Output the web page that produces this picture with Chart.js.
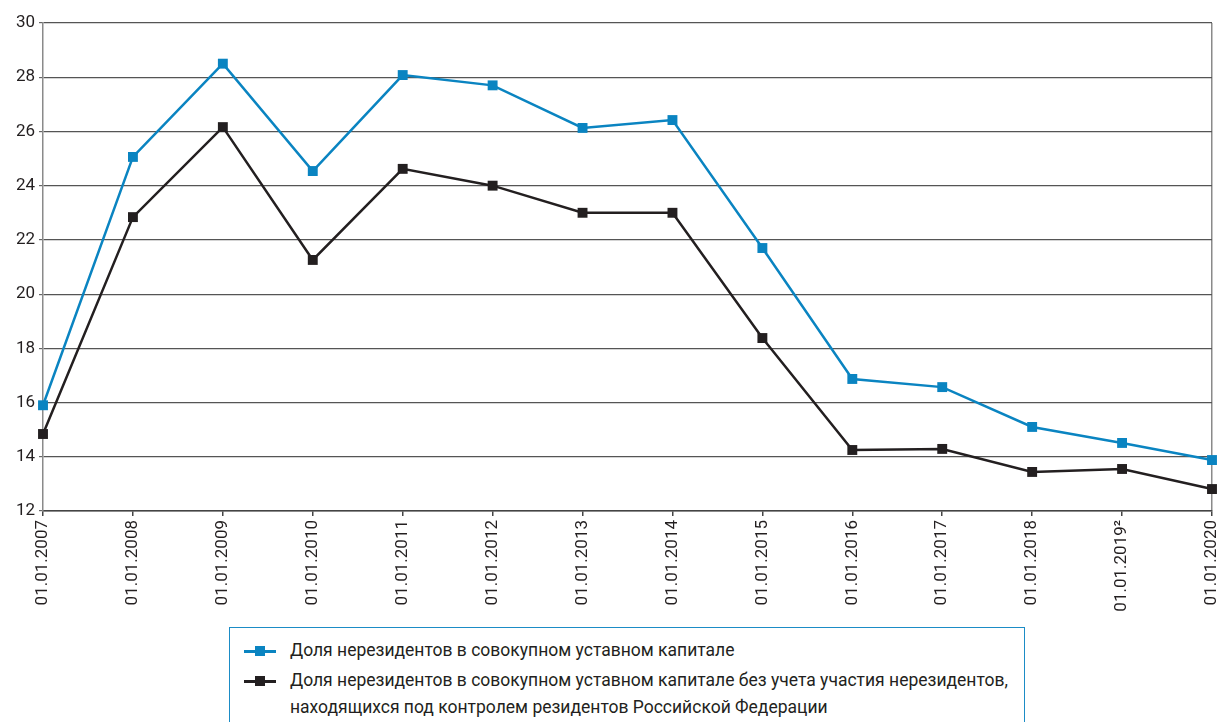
<!DOCTYPE html>
<html lang="ru">
<head>
<meta charset="utf-8">
<script src="https://cdn.jsdelivr.net/npm/chart.js@4.4.0/dist/chart.umd.min.js"></script>
<style>
  html, body { margin: 0; padding: 0; background: #fff; }
  body { width: 1219px; height: 722px; position: relative; overflow: hidden;
         font-family: 'Roboto', 'Liberation Sans', sans-serif; }
  #wrap { position: absolute; left: 0; top: 0; width: 1219px; height: 622px; }
  #legend { position: absolute; left: 229px; top: 627px; width: 796px; height: 120px;
            border: 1.5px solid #1b8cc6; box-sizing: border-box; color: #231f20; font-size: 17.5px; }
  .item { position: absolute; left: 14px; display: flex; align-items: flex-start; }
  .mark { position: relative; width: 32px; height: 20px; margin-right: 14px; }
  .mark .ln { position: absolute; left: 0; right: 0; top: 9px; height: 3px; }
  .mark .sq { position: absolute; left: 11px; top: 5px; width: 10px; height: 10px; }
  .txt { line-height: 27px; margin-top: -4px; }
</style>
</head>
<body>
<div id="wrap"><canvas id="chart"></canvas></div>
<div id="legend">
  <div class="item" style="top: 13px;">
    <div class="mark"><div class="ln" style="background:#0a84c1"></div><div class="sq" style="background:#0a84c1"></div></div>
    <div class="txt">Доля нерезидентов в совокупном уставном капитале</div>
  </div>
  <div class="item" style="top: 43px;">
    <div class="mark"><div class="ln" style="background:#231f20"></div><div class="sq" style="background:#231f20"></div></div>
    <div class="txt">Доля нерезидентов в совокупном уставном капитале без учета участия нерезидентов,<br>находящихся под контролем резидентов Российской Федерации</div>
  </div>
</div>
<script>
const dates = ['01.01.2007', '01.01.2008', '01.01.2009', '01.01.2010', '01.01.2011', '01.01.2012', '01.01.2013',
               '01.01.2014', '01.01.2015', '01.01.2016', '01.01.2017', '01.01.2018', '01.01.2019²', '01.01.2020'];
const shareTotal = [15.9, 25.06, 28.5, 24.54, 28.08, 27.7, 26.13, 26.42, 21.7, 16.87, 16.57, 15.1, 14.51, 13.88];
const shareExclControlled = [14.84, 22.84, 26.16, 21.26, 24.62, 24.0, 23.0, 23.0, 18.38, 14.25, 14.29, 13.44, 13.55, 12.81];
const labelTotal = 'Доля нерезидентов в совокупном уставном капитале';
const labelExcl = 'Доля нерезидентов в совокупном уставном капитале без учета участия нерезидентов, находящихся под контролем резидентов Российской Федерации';

const BLUE = '#0a84c1';
const BLACK = '#231f20';
const FONT = "'Roboto', 'Liberation Sans', sans-serif";

function series(label, data, color) {
    return {
        label: label,
        data: data,
        borderColor: color,
        backgroundColor: color,
        borderWidth: 2.5,
        pointStyle: 'rect',
        pointRadius: 7,
        pointBorderWidth: 0,
        tension: 0
    };
}

const ctx = document.getElementById('chart');
new Chart(ctx, {
    type: 'line',
    data: {
        labels: dates,
        datasets: [
            series(labelExcl, shareExclControlled, BLACK),
            series(labelTotal, shareTotal, BLUE)
        ]
    },
    options: {
        responsive: true,
        maintainAspectRatio: false,
        animation: false,
        layout: { padding: { left: 0, right: 7, top: 23, bottom: 0 } },
        plugins: {
            legend: { display: false },
            tooltip: { enabled: false }
        },
        scales: {
            x: {
                offset: false,
                grid: {
                    color: c => c.index === dates.length - 1 ? '#8a8a8a' : 'rgba(0,0,0,0)',
                    tickColor: '#444',
                    tickLength: 5,
                    lineWidth: 1.5
                },
                border: { color: '#444', width: 1.5 },
                ticks: {
                    color: BLACK,
                    font: { family: FONT, size: 17 },
                    minRotation: 90,
                    maxRotation: 90,
                    autoSkip: false,
                    padding: 4
                },
                afterFit: s => { s.height = 622 - 511; s.paddingLeft = 0; s.paddingRight = 0; }
            },
            y: {
                min: 12,
                max: 30,
                ticks: {
                    stepSize: 2,
                    color: BLACK,
                    font: { family: FONT, size: 17 },
                    padding: 4
                },
                grid: { color: '#555', lineWidth: 1.2, tickLength: 4, tickColor: '#666' },
                border: { color: '#8a8a8a', width: 1.5 },
                afterFit: s => { s.width = 43; s.paddingTop = 0; s.paddingBottom = 0; }
            }
        }
    }
});
</script>
</body>
</html>
